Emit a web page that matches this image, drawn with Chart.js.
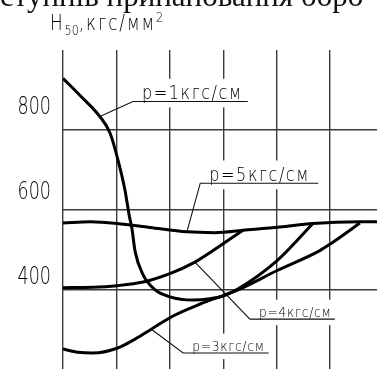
<!DOCTYPE html>
<html>
<head>
<meta charset="utf-8">
<script src="https://cdn.jsdelivr.net/npm/chart.js@4.4.1/dist/chart.umd.min.js"></script>
<style>
  body { margin: 0; background: #fff; }
  #wrap { position: relative; width: 377px; height: 369px; overflow: hidden; }
  canvas { position: absolute; left: 0; top: 0; }
  .top { position: absolute; left: 0; top: -19px; font-family: "Liberation Serif", serif; font-size: 31px; line-height: 30px; white-space: nowrap; color: #111; }
  .unit { position: absolute; left: 50px; top: 13px; font-family: "DejaVu Sans", sans-serif; font-weight: 200; font-size: 21px; line-height: 20px; letter-spacing: 2.4px; color: #000; white-space: nowrap; transform: scaleX(0.8); transform-origin: 0 0; }
  .unit sub, .unit sup { font-size: 14px; line-height: 0; letter-spacing: 0; }
</style>
</head>
<body>
<div id="wrap">
  <canvas id="myChart" width="377" height="369"></canvas>
  <div class="top">ступнів принановання боро</div>
  <div class="unit">H<sub>50</sub>,кгс/мм<sup>2</sup></div>
</div>
<script>
// x is in grid divisions (no scale printed on the drawing), y in kgf/mm2
const gridX = [0, 1, 2, 3, 4, 5];
const gridY = [400, 600, 800];
const yTicks = [400, 600, 800];

const curveNames = ['р=1кгс/см', 'р=5кгс/см', 'р=4кгс/см', 'р=3кгс/см'];

const p1X = [0, 0.32, 0.69, 0.88, 1.03, 1.16, 1.24, 1.29, 1.35, 1.5, 1.72, 2.0, 2.43, 2.75, 3.0, 3.28, 4.01, 4.68];
const p1Y = [929, 886, 833, 792, 724, 649, 585, 553, 495, 436, 399, 381, 373, 376, 383, 401, 472, 565];

const p5X = [0, 0.51, 1.01, 1.63, 2.32, 2.85, 3.37, 4.06, 4.68, 5.56, 5.88];
const p5Y = [566, 569, 565, 555, 544, 542, 548, 556, 565, 569, 569];

const p4X = [0, 0.56, 1.01, 1.5, 2.0, 2.47, 2.81, 3.37];
const p4Y = [404, 405, 409, 418, 439, 468, 497, 548];

const p3X = [0, 0.28, 0.56, 1.01, 1.35, 1.69, 2.06, 2.57, 3.07, 3.32, 4.01, 4.81, 5.0, 5.56];
const p3Y = [250, 242, 240, 252, 275, 303, 333, 363, 388, 401, 447, 497, 513, 566];

// leader lines: point on curve -> corner -> end of underline
const leaderX = [[0.69, 1.31, 3.46], [2.32, 2.57, 4.78], [2.47, 3.50, 5.09], [1.66, 2.25, 3.85]];
const leaderY = [[833, 871, 871], [544, 666, 666], [468, 325, 325], [299, 240, 240]];

const pts = (xs, ys) => xs.map((x, i) => ({ x: x, y: ys[i] }));

// narrow drafting lettering: DejaVu squeezed horizontally
const textFont = '"DejaVu Sans", sans-serif';
const labelSize = [19, 19, 14.5, 14.5];
const labelSpacing = [1.8, 1.8, 0.8, 0.8];

function drawNarrow(ctx, text, x, y, size, sx, spacing, align) {
  ctx.save();
  ctx.translate(x, y);
  ctx.scale(sx, 1);
  ctx.font = '200 ' + size + 'px ' + textFont;
  ctx.letterSpacing = spacing + 'px';
  ctx.textAlign = align;
  ctx.textBaseline = 'alphabetic';
  ctx.fillText(text, 0, 0);
  ctx.restore();
}

const curve = (xs, ys) => ({
  data: pts(xs, ys),
  borderColor: '#000',
  borderWidth: 3,
  pointRadius: 0,
  cubicInterpolationMode: 'monotone'
});

const leader = (i) => ({
  data: pts(leaderX[i], leaderY[i]),
  borderColor: '#111',
  borderWidth: 1.1,
  pointRadius: 0,
  tension: 0
});

const curveLabels = {
  id: 'curveLabels',
  beforeDatasetsDraw(chart) {
    const ctx = chart.ctx, xs = chart.scales.x, ys = chart.scales.y;
    ctx.save();
    ctx.fillStyle = '#fff';
    curveNames.forEach((t, i) => {
      const x0 = xs.getPixelForValue(leaderX[i][1]);
      const x1 = xs.getPixelForValue(leaderX[i][2]);
      const yu = ys.getPixelForValue(leaderY[i][1]);
      const h = labelSize[i] * 0.72;
      ctx.fillRect(x0, yu - h - 9, x1 - x0, h + 15);
    });
    ctx.restore();
  },
  afterDatasetsDraw(chart) {
    const ctx = chart.ctx, xs = chart.scales.x, ys = chart.scales.y, yl = chart.scales.yl;
    ctx.fillStyle = '#000';
    curveNames.forEach((t, i) => {
      const x0 = xs.getPixelForValue(leaderX[i][1]);
      const yu = ys.getPixelForValue(leaderY[i][1]);
      drawNarrow(ctx, t, x0 + 9, yu - 2, labelSize[i], 0.85, labelSpacing[i], 'left');
    });
    yTicks.forEach((v) => {
      drawNarrow(ctx, String(v), yl.right - 12, yl.getPixelForValue(v) + 9, 25, 0.7, 0, 'right');
    });
  }
};

new Chart(
  document.getElementById('myChart'),
  {
    type: 'line',
    data: {
      datasets: [
        curve(p1X, p1Y),
        curve(p5X, p5Y),
        curve(p4X, p4Y),
        curve(p3X, p3Y),
        leader(0), leader(1), leader(2), leader(3)
      ]
    },
    options: {
      responsive: false,
      animation: false,
      devicePixelRatio: 1,
      layout: { padding: { top: 50, right: 0, bottom: 0, left: 0 } },
      plugins: {
        legend: { display: false },
        tooltip: { enabled: false }
      },
      scales: {
        x: {
          type: 'linear',
          min: 0,
          max: 5.88,
          afterBuildTicks: (s) => { s.ticks = gridX.map((v) => ({ value: v })) },
          ticks: { display: false },
          grid: { color: '#3a3a3a', lineWidth: 1.4, drawTicks: false },
          border: { display: false },
          afterFit: (s) => { s.height = 0 }
        },
        y: {
          position: 'left',
          weight: 0,
          min: 200,
          max: 1000,
          afterBuildTicks: (s) => { s.ticks = gridY.map((v) => ({ value: v })) },
          ticks: { display: false },
          grid: { color: '#3a3a3a', lineWidth: 1.4, drawTicks: false },
          border: { display: false },
          afterFit: (s) => { s.width = 0 }
        },
        yl: {
          position: 'left',
          weight: 1,
          min: 178.8,
          max: 929.4,
          afterBuildTicks: (s) => { s.ticks = yTicks.map((v) => ({ value: v })) },
          ticks: { display: false },
          grid: { display: false, drawTicks: false },
          border: { display: false },
          afterFit: (s) => { s.width = 63 }
        }
      }
    },
    plugins: [curveLabels]
  }
)
</script>
</body>
</html>
